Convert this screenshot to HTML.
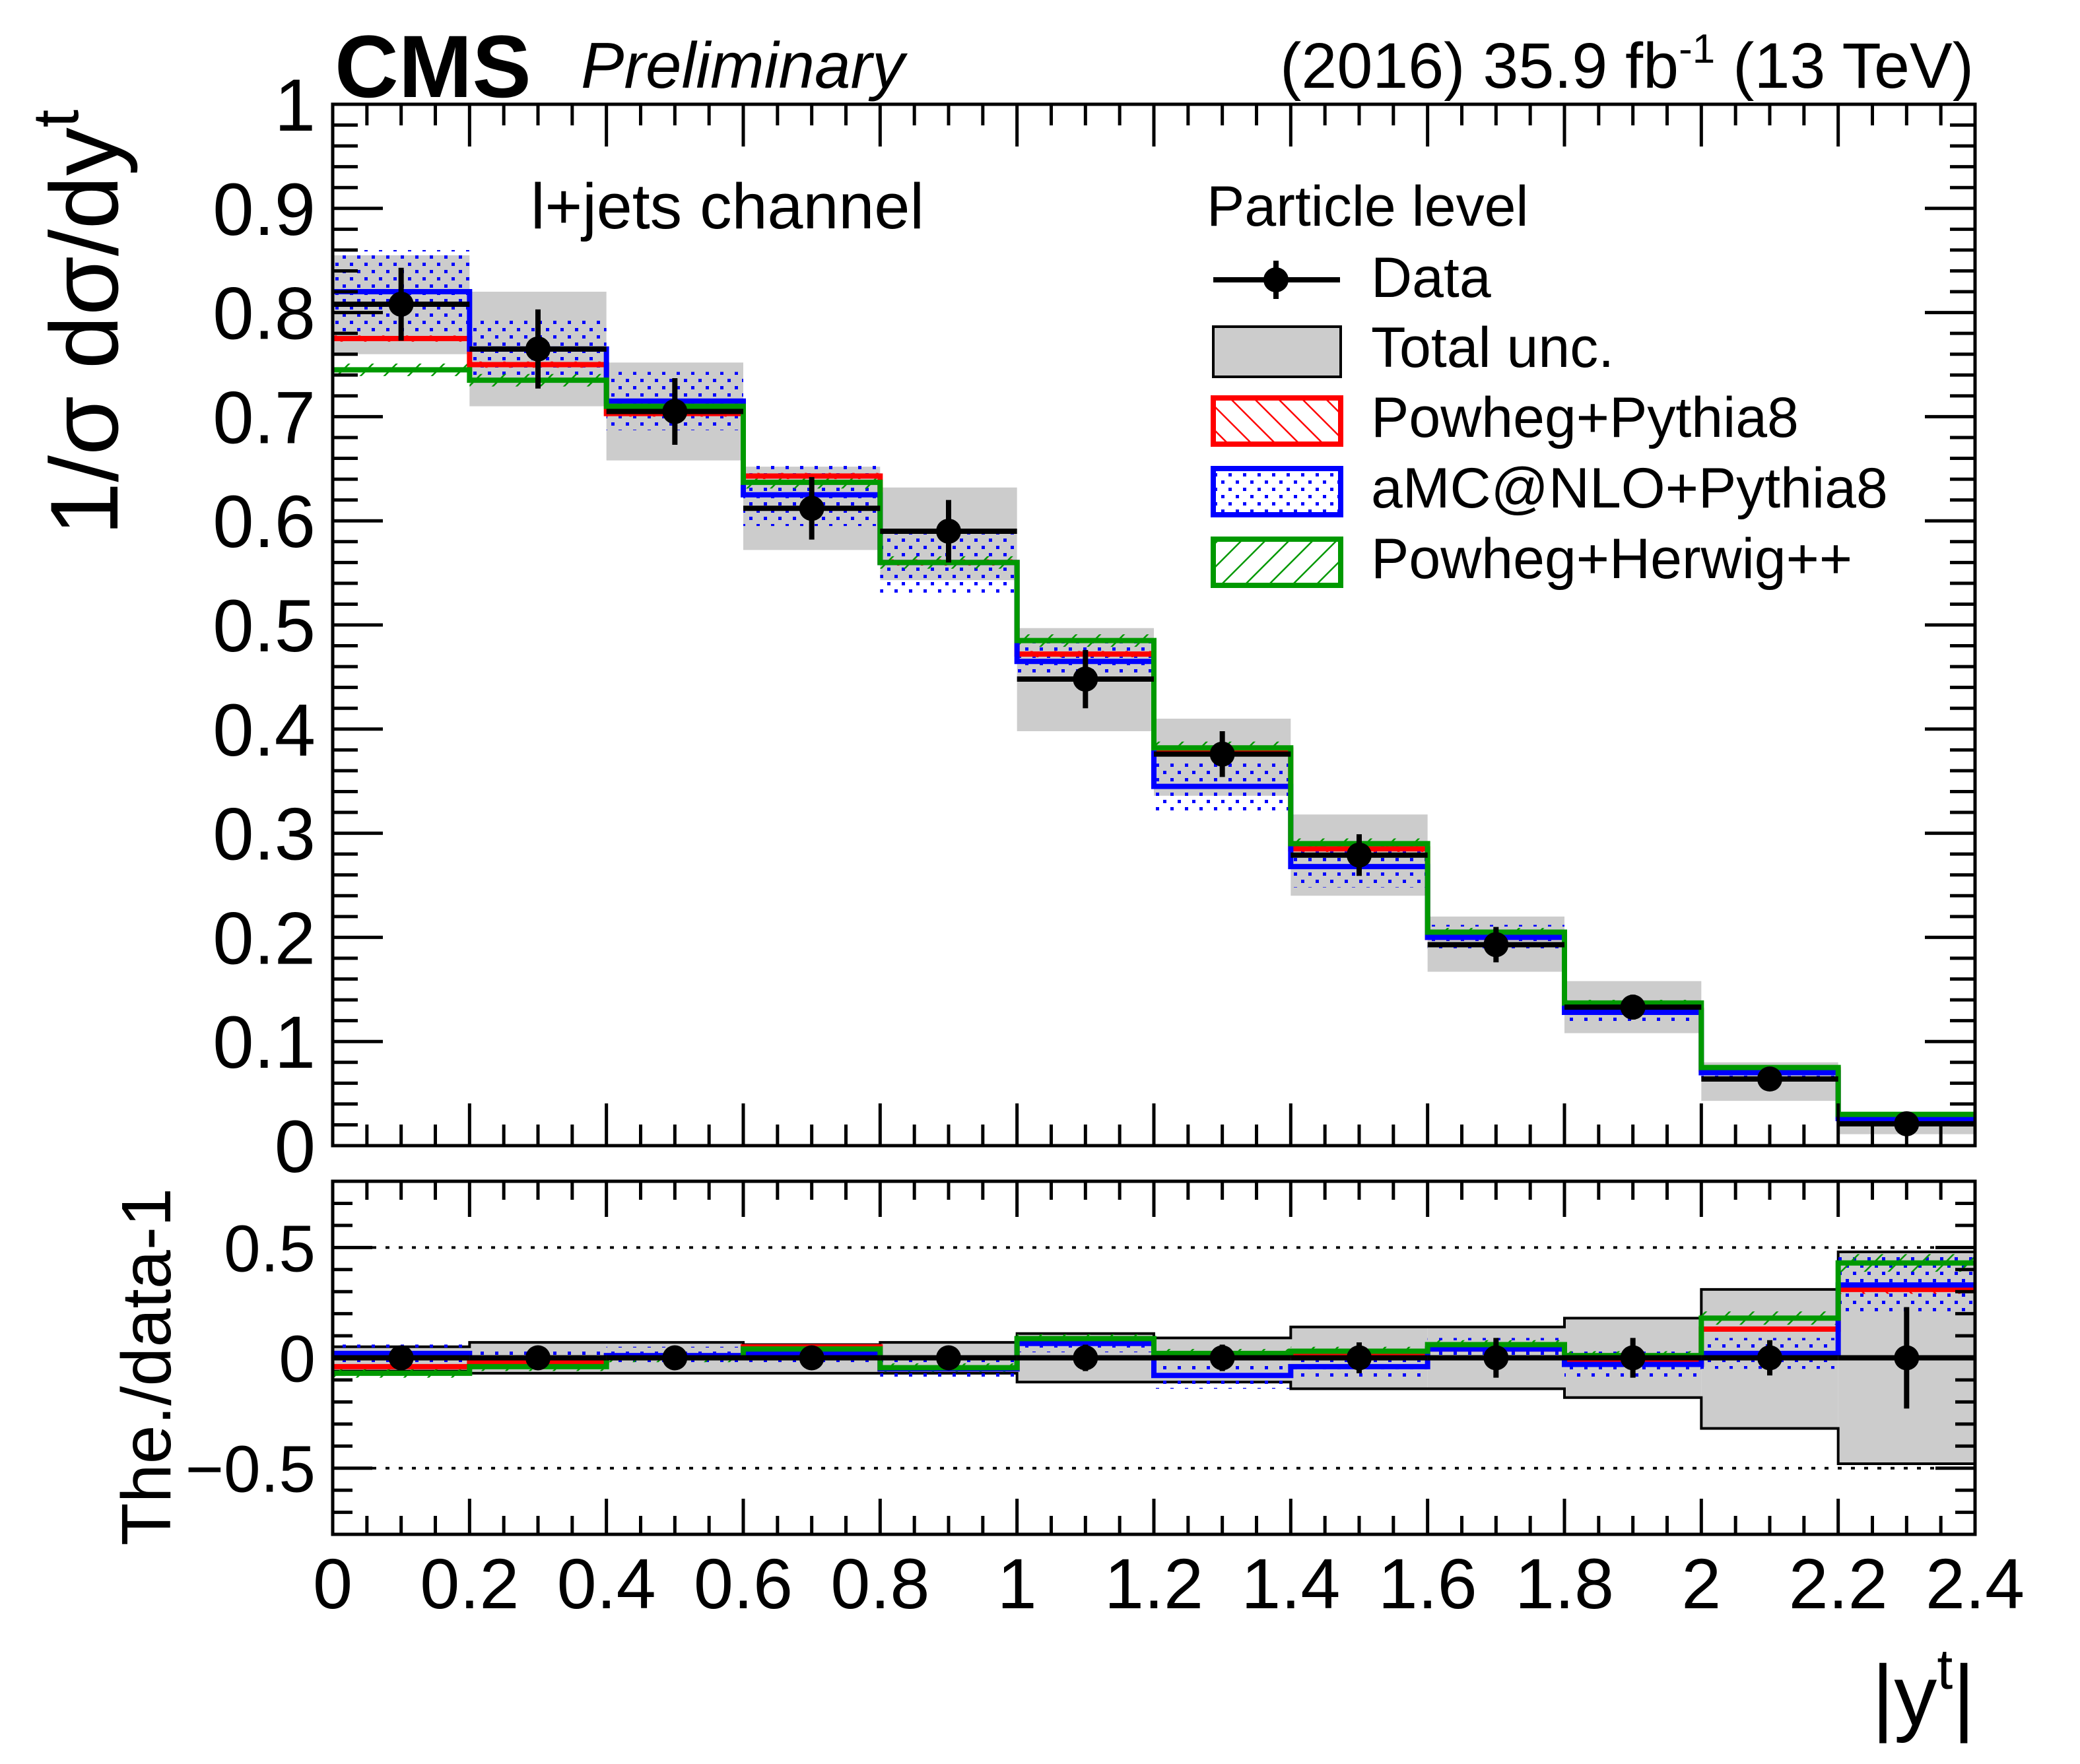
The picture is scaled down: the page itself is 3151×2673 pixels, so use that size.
<!DOCTYPE html>
<html><head><meta charset="utf-8">
<style>
html,body{margin:0;padding:0;background:#fff;}
svg{display:block;font-family:"Liberation Sans",Arial,sans-serif;}
</style></head>
<body>
<svg id="chart" xmlns="http://www.w3.org/2000/svg" width="3151" height="2673" viewBox="0 0 3151 2673">
<defs>
<pattern id="dots" width="22" height="22" patternUnits="userSpaceOnUse">
<rect x="2" y="2" width="5" height="5" fill="#0000ff"/>
<rect x="13" y="13" width="5" height="5" fill="#0000ff"/>
</pattern>
<pattern id="redhatch" width="36" height="36" patternUnits="userSpaceOnUse">
<path d="M0,0 L36,36 M-18,18 L18,54 M18,-18 L54,18" stroke="#ff0000" stroke-width="2.5"/>
</pattern>
<pattern id="greenhatch" width="36" height="36" patternUnits="userSpaceOnUse">
<path d="M0,36 L36,0 M-18,18 L18,-18 M18,54 L54,18" stroke="#009900" stroke-width="2.5"/>
</pattern>
</defs>
<g id="main-plot"></g>
<g id="ratio-plot"></g>
<g id="axes"></g>

<text x="507" y="147" font-size="134" font-weight="bold">CMS</text>
<text x="880" y="133" font-size="98" font-style="italic">Preliminary</text>
<text x="2990" y="133" font-size="97" text-anchor="end">(2016) 35.9 fb<tspan dy="-38" font-size="62">-1</tspan><tspan dy="38"> (13 TeV)</tspan></text>
<text x="804" y="346" font-size="97">l+jets channel</text>

<text transform="translate(178,166) rotate(-90)" font-size="146" text-anchor="end">1/σ dσ/dy<tspan dy="-60" font-size="98">t</tspan></text>
<text transform="translate(258,1800) rotate(-90)" font-size="106" text-anchor="end">The./data-1</text>
<text x="2992" y="2614" font-size="130" text-anchor="end">|y<tspan dy="-55" font-size="86">t</tspan><tspan dy="55">|</tspan></text>

<g>
<text x="1828" y="342" font-size="86">Particle level</text>
<g>
<line x1="1838" y1="424" x2="2030" y2="424" stroke="#000" stroke-width="8"/>
<line x1="1933" y1="395" x2="1933" y2="453" stroke="#000" stroke-width="8"/>
<circle cx="1933" cy="424" r="19" fill="#000"/>
<text x="2077" y="450" font-size="86">Data</text>
</g>
<g>
<rect x="1838" y="495" width="193" height="76" fill="#cccccc" stroke="#000" stroke-width="4"/>
<text x="2077" y="556" font-size="86">Total unc.</text>
</g>
<g>
<rect x="1838" y="603" width="193" height="70" fill="url(#redhatch)" stroke="#ff0000" stroke-width="8"/>
<text x="2077" y="662" font-size="86">Powheg+Pythia8</text>
</g>
<g>
<rect x="1838" y="710" width="193" height="70" fill="url(#dots)" stroke="#0000ff" stroke-width="8"/>
<text x="2077" y="769" font-size="86">aMC@NLO+Pythia8</text>
</g>
<g>
<rect x="1838" y="817" width="193" height="70" fill="url(#greenhatch)" stroke="#009900" stroke-width="8"/>
<text x="2077" y="876" font-size="86">Powheg+Herwig++</text>
</g>
</g>
</svg>
<script>
const binEdges = [0,0.2,0.4,0.6,0.8,1.0,1.2,1.4,1.6,1.8,2.0,2.2,2.4];
const dataVals = [0.808,0.765,0.705,0.612,0.590,0.448,0.376,0.279,0.193,0.133,0.064,0.021];
const dataStat = [0.035,0.038,0.032,0.030,0.030,0.028,0.022,0.020,0.017,0.012,0.005,0.004];
const totLo = [0.760,0.710,0.658,0.572,0.543,0.398,0.336,0.240,0.167,0.108,0.043,0.011];
const totHi = [0.855,0.820,0.752,0.652,0.632,0.497,0.410,0.318,0.220,0.158,0.080,0.031];
const powPy = [0.775,0.750,0.703,0.643,0.560,0.472,0.380,0.285,0.200,0.130,0.073,0.028];
const amcPy = [0.820,0.765,0.715,0.625,0.560,0.465,0.345,0.268,0.200,0.128,0.070,0.026];
const powHw = [0.745,0.735,0.710,0.637,0.560,0.485,0.382,0.290,0.205,0.137,0.075,0.030];
const amcUnc = [0.040,0.030,0.028,0.030,0.030,0.018,0.025,0.020,0.012,0.009,0.005,0.004];
const powPyUnc = [0.003,0.003,0.003,0.003,0.003,0.003,0.003,0.003,0.002,0.002,0.002,0.001];
const powHwUnc = [0.006,0.006,0.006,0.006,0.006,0.006,0.006,0.005,0.004,0.003,0.002,0.002];

const rStat = [0.04,0.05,0.05,0.05,0.05,0.06,0.06,0.07,0.09,0.09,0.08,0.23];
const rTotHi = [0.05,0.07,0.07,0.06,0.07,0.11,0.09,0.14,0.14,0.18,0.31,0.48];
const rTotLo = [-0.06,-0.07,-0.07,-0.07,-0.07,-0.11,-0.11,-0.14,-0.14,-0.18,-0.32,-0.48];
const rPowPy = [-0.04,-0.02,0.00,0.05,-0.05,0.07,0.01,0.02,0.04,-0.02,0.13,0.31];
const rAmc = [0.02,0.00,0.01,0.02,-0.05,0.065,-0.08,-0.04,0.04,-0.03,0.02,0.33];
const rPowHw = [-0.07,-0.04,0.00,0.04,-0.045,0.087,0.02,0.03,0.06,0.01,0.18,0.43];
const rAmcUnc = [0.04,0.04,0.04,0.04,0.05,0.04,0.06,0.06,0.05,0.06,0.07,0.13];
const rPowPyUnc = [0.01,0.01,0.01,0.01,0.01,0.01,0.01,0.01,0.01,0.01,0.01,0.02];
const rPowHwUnc = [0.02,0.02,0.02,0.02,0.02,0.02,0.02,0.02,0.02,0.02,0.03,0.04];

const xTickLabels = ["0","0.2","0.4","0.6","0.8","1","1.2","1.4","1.6","1.8","2","2.2","2.4"];
const yTickLabels = ["0","0.1","0.2","0.3","0.4","0.5","0.6","0.7","0.8","0.9","1"];
const rTickLabels = ["\u22120.5","0","0.5"];

const X0=504, X1=2992, MT=158, MB=1736, RT=1790, RB=2325;
const NS="http://www.w3.org/2000/svg";
function sx(v){return X0+(v/2.4)*(X1-X0);}
function sy(v){return MB-(v/1.0)*(MB-MT);}
function ry(v){return (RT+RB)/2-(v/1.6)*(RB-RT);}
function mk(tag,attrs,parent){const e=document.createElementNS(NS,tag);for(const k in attrs)e.setAttribute(k,attrs[k]);parent.appendChild(e);return e;}

function drawPanel(g, yf, lo, hi, greyStroke, bands, lines, vals, errs, prefix){
  for(let i=0;i<vals.length;i++){
    const r=mk('rect',{x:sx(binEdges[i]),y:yf(hi[i]),width:sx(binEdges[i+1])-sx(binEdges[i]),height:yf(lo[i])-yf(hi[i]),fill:'#cccccc'},g);
    
    
  }
  if(greyStroke){
    let d='';
    for(let i=0;i<hi.length;i++){d+=(i?'L':'M')+sx(binEdges[i])+','+yf(hi[i])+'L'+sx(binEdges[i+1])+','+yf(hi[i]);}
    for(let i=lo.length-1;i>=0;i--){d+='L'+sx(binEdges[i+1])+','+yf(lo[i])+'L'+sx(binEdges[i])+','+yf(lo[i]);}
    d+='Z';
    const p=mk('path',{d:d,fill:'none',stroke:'#000','stroke-width':4},g);
    
    
  }
  bands.forEach(b=>{
    for(let i=0;i<b.v.length;i++){
      const r=mk('rect',{x:sx(binEdges[i]),y:yf(b.v[i]+b.u[i]),width:sx(binEdges[i+1])-sx(binEdges[i]),height:Math.max(2,yf(b.v[i]-b.u[i])-yf(b.v[i]+b.u[i])),fill:b.fill},g);
      
      
    }
  });
  lines.forEach(l=>{
    let d='';
    for(let i=0;i<l.v.length;i++){d+=(i?'L':'M')+sx(binEdges[i])+','+yf(l.v[i])+'L'+sx(binEdges[i+1])+','+yf(l.v[i]);}
    const p=mk('path',{d:d,fill:'none',stroke:l.color,'stroke-width':8},g);
    
    
  });
  for(let i=0;i<vals.length;i++){
    const cx=sx((binEdges[i]+binEdges[i+1])/2);
    const pg=mk('g',{},g);
    
    
    mk('line',{x1:sx(binEdges[i]),x2:sx(binEdges[i+1]),y1:yf(vals[i]),y2:yf(vals[i]),stroke:'#000','stroke-width':8},pg);
    mk('line',{x1:cx,x2:cx,y1:yf(vals[i]+errs[i]),y2:yf(vals[i]-errs[i]),stroke:'#000','stroke-width':8},pg);
    mk('circle',{cx:cx,cy:yf(vals[i]),r:19,fill:'#000'},pg);
  }
}

const gm=document.getElementById('main-plot');
drawPanel(gm, sy, totLo, totHi, false,
  [{name:'amcatnlo',v:amcPy,u:amcUnc,fill:'url(#dots)'},{name:'powheg-pythia8',v:powPy,u:powPyUnc,fill:'url(#redhatch)'},{name:'powheg-herwig',v:powHw,u:powHwUnc,fill:'url(#greenhatch)'}],
  [{name:'powheg-pythia8',v:powPy,color:'#ff0000'},{name:'amcatnlo-pythia8',v:amcPy,color:'#0000ff'},{name:'powheg-herwig',v:powHw,color:'#009900'}],
  dataVals, dataStat, 'main-');

const gr=document.getElementById('ratio-plot');
const zeros=dataVals.map(()=>0);
[0.5,-0.5].forEach(v=>{
  const l=mk('line',{x1:X0,x2:X1,y1:ry(v),y2:ry(v),stroke:'#000','stroke-width':4,'stroke-dasharray':'6,14'},gr);
  
  
});
drawPanel(gr, ry, rTotLo, rTotHi, true,
  [{name:'amcatnlo',v:rAmc,u:rAmcUnc,fill:'url(#dots)'},{name:'powheg-pythia8',v:rPowPy,u:rPowPyUnc,fill:'url(#redhatch)'},{name:'powheg-herwig',v:rPowHw,u:rPowHwUnc,fill:'url(#greenhatch)'}],
  [{name:'powheg-pythia8',v:rPowPy,color:'#ff0000'},{name:'amcatnlo-pythia8',v:rAmc,color:'#0000ff'},{name:'powheg-herwig',v:rPowHw,color:'#009900'}],
  zeros, rStat, 'ratio-');

const ga=document.getElementById('axes');
function frame(top,bot,name){
  const r=mk('rect',{x:X0,y:top,width:X1-X0,height:bot-top,fill:'none',stroke:'#000','stroke-width':5},ga);
  
  
}
frame(MT,MB,'main-frame');
frame(RT,RB,'ratio-frame');
function xticks(top,bot,withLabels){
  for(let k=0;k<=48;k++){
    const v=k*0.05, x=sx(v), major=(k%4===0);
    const len=major?(bot-top>1000?64:54):(bot-top>1000?32:28);
    mk('line',{x1:x,x2:x,y1:bot,y2:bot-len,stroke:'#000','stroke-width':5},ga);
    mk('line',{x1:x,x2:x,y1:top,y2:top+len,stroke:'#000','stroke-width':5},ga);
  }
  if(withLabels){
    xTickLabels.forEach((t,i)=>{
      const tx=mk('text',{x:sx(i*0.2),y:2437,'font-size':108,'text-anchor':'middle'},ga);
      tx.textContent=t;
      
      
    });
  }
}
xticks(MT,MB,false);
xticks(RT,RB,true);
for(let k=0;k<=50;k++){
  const v=k*0.02, y=sy(v), major=(k%5===0), len=major?76:38;
  mk('line',{x1:X0,x2:X0+len,y1:y,y2:y,stroke:'#000','stroke-width':5},ga);
  mk('line',{x1:X1,x2:X1-len,y1:y,y2:y,stroke:'#000','stroke-width':5},ga);
}
yTickLabels.forEach((t,i)=>{
  const tx=mk('text',{x:478,y:sy(i*0.1)+40,'font-size':112,'text-anchor':'end'},ga);
  tx.textContent=t;
  
  
});
for(let k=-8;k<=8;k++){
  const v=k*0.1, y=ry(v), major=(k%5===0), len=major?60:30;
  mk('line',{x1:X0,x2:X0+len,y1:y,y2:y,stroke:'#000','stroke-width':5},ga);
  mk('line',{x1:X1,x2:X1-len,y1:y,y2:y,stroke:'#000','stroke-width':5},ga);
}
rTickLabels.forEach((t,i)=>{
  const tx=mk('text',{x:478,y:ry(-0.5+i*0.5)+36,'font-size':100,'text-anchor':'end'},ga);
  tx.textContent=t;
  
  
});
</script>
</body></html>
